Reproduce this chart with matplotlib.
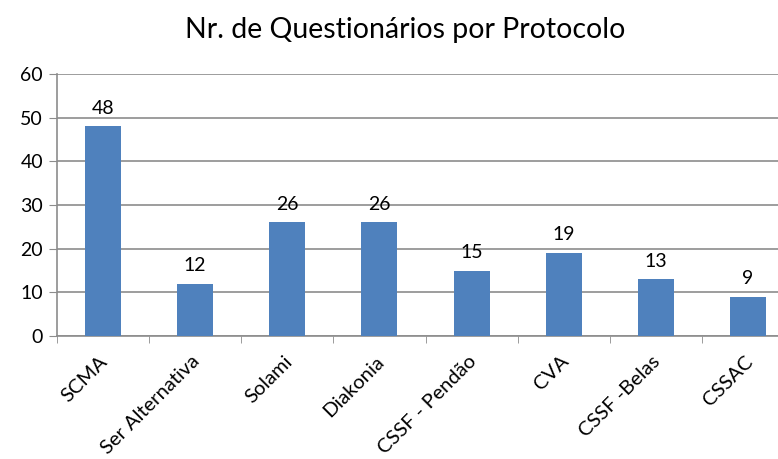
import numpy as np
import matplotlib.pyplot as plt
import matplotlib.transforms as mtransforms

# data
protocolos = ['SCMA', 'Ser Alternativa', 'Solami', 'Diakonia', 'CSSF - Pendão', 'CVA', 'CSSF -Belas', 'CSSAC']
questionarios = [48, 12, 26, 26, 15, 19, 13, 9]

plt.rcParams['font.family'] = ['Lato', 'DejaVu Sans']

fig = plt.figure(figsize=(7.78, 4.59), dpi=100)
W, H = 778, 459
left, right, top, bottom = 57, 794, 74, 336
ax = fig.add_axes([left / W, 1 - bottom / H, (right - left) / W, (bottom - top) / H])

x = np.arange(len(protocolos))
bars = ax.bar(x, questionarios, width=0.39, color='#4F81BD', zorder=3)
for b, v in zip(bars, questionarios):
    ax.text(b.get_x() + b.get_width() / 2, v + 2.2, str(v), ha='center', va='bottom',
            fontsize=14, color='black')

ax.set_xlim(-0.5, len(protocolos) - 0.5)
ax.set_ylim(0, 60)
ax.set_yticks(range(0, 61, 10))
ax.yaxis.grid(True, color='#8c8c8c', linewidth=1.2, zorder=0)
ax.set_axisbelow(True)

ax.set_xticks(x)
ax.set_xticklabels(protocolos, rotation=45, ha='right', rotation_mode='anchor', fontsize=14.5)
ax.tick_params(axis='x', length=0, pad=12)
shift = mtransforms.ScaledTranslation(-4 / 100, 0, fig.dpi_scale_trans)
for lab in ax.get_xticklabels():
    lab.set_transform(lab.get_transform() + shift)
ax.set_xticks(np.arange(-0.5, len(protocolos), 1), minor=True)
ax.tick_params(axis='x', which='minor', length=5, color='#8c8c8c')
ax.tick_params(axis='y', length=6, color='#8c8c8c', labelsize=14, pad=4)

for s in ['top', 'right']:
    ax.spines[s].set_visible(False)
for s in ['left', 'bottom']:
    ax.spines[s].set_color('#8c8c8c')
    ax.spines[s].set_linewidth(1.2)

fig.text(405 / W, 1 - 30 / H, 'Nr. de Questionários por Protocolo', ha='center', va='center', fontsize=20.5)

fig.savefig('out.png', dpi=100)
